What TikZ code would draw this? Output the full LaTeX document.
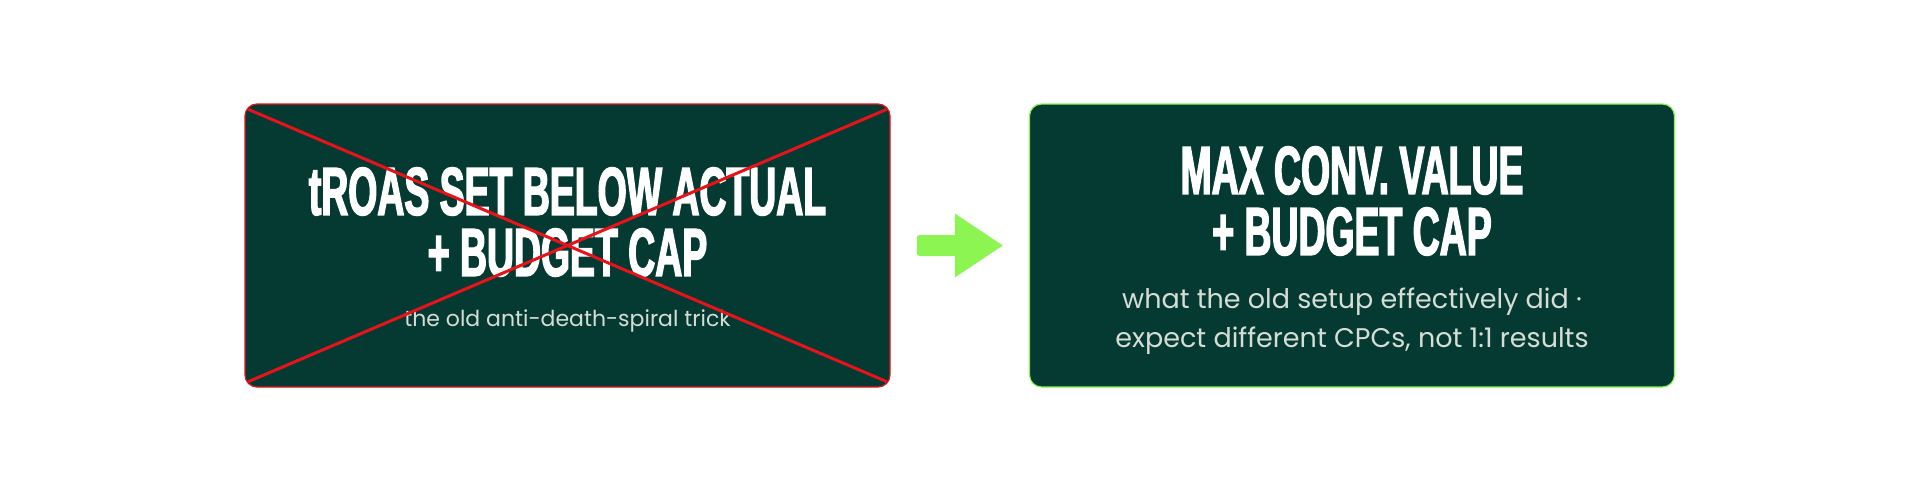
\documentclass[tikz,border=0pt]{standalone}
\usepackage{fontspec}
\setmainfont{Poppins}
\newfontfamily\headfont[FakeStretch=0.55,FakeBold=2]{Liberation Sans Bold}
\usetikzlibrary{calc}
\definecolor{pineDark}{HTML}{053A33}
\definecolor{crossRed}{HTML}{E8121A}
\definecolor{limeGreen}{HTML}{8CF552}
\definecolor{mistText}{HTML}{D5DDD5}
\tikzset{
  card/.style={rounded corners=12pt, fill=pineDark, line width=1.2pt,
              minimum width=645pt, minimum height=283pt, inner sep=0pt},
  heading/.style={font=\headfont\fontsize{68}{61}\selectfont, text=white,
              align=center, inner sep=0pt},
  subline/.style={font=\fontsize{22}{39}\selectfont, text=mistText,
              align=center, inner sep=0pt},
  crossline/.style={draw=crossRed, line width=3pt},
  pointer/.style={fill=limeGreen},
}

\begin{document}
\begin{tikzpicture}[x=1pt,y=-1pt]
  \useasboundingbox[fill=white] (0,0) rectangle (1920,490);
  \node[card,draw=crossRed] (oldbox) at (567.5,245.5) {};
  \node[card,draw=limeGreen] (newbox) at (1352,245.5) {};
  \node[heading] (oldtitle) at (567.5,222) {tROAS SET BELOW ACTUAL\\+ BUDGET CAP};
  \node[subline] (oldnote) at (567.5,321) {the old anti-death-spiral trick};
  \node[heading] (newtitle) at (1352,201) {MAX CONV. VALUE\\+ BUDGET CAP};
  \node[subline,font=\fontsize{27}{39}\selectfont] (newnote) at (1352,321)
    {what the old setup effectively did ·\\expect different CPCs, not 1:1 results};
  % crossed out
  \draw[crossline] ([shift={(4,6)}]oldbox.north west) -- ([shift={(-4,-6)}]oldbox.south east);
  \draw[crossline] ([shift={(-4,6)}]oldbox.north east) -- ([shift={(4,-6)}]oldbox.south west);
  % arrow between the cards
  \coordinate (gap) at ($(oldbox.east)!0.5!(newbox.west)$);
  \fill[pointer,rounded corners=3pt] ($(gap)+(-43,-10.5)$) rectangle ($(gap)+(-3,10.5)$);
  \fill[pointer] ($(gap)+(-5,-32)$) -- ($(gap)+(43,0)$) -- ($(gap)+(-5,32)$) -- cycle;
\end{tikzpicture}
\end{document}
